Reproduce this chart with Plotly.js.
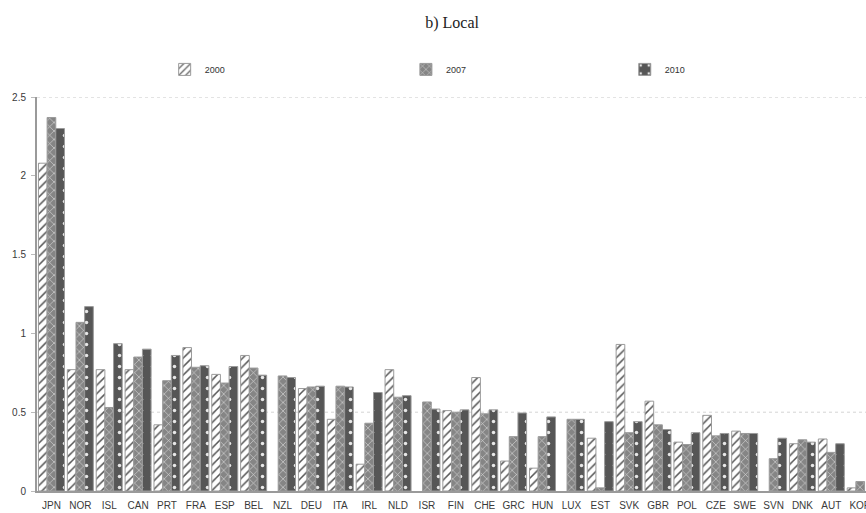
<!DOCTYPE html>
<html>
<head>
<meta charset="utf-8">
<script src="https://cdn.plot.ly/plotly-3.0.1.min.js"></script>
<style>html,body{margin:0;padding:0;background:#fff;}#chart{width:866px;height:513px;}</style>
</head>
<body>
<div id="chart"></div>
<script>
const countries = ["JPN","NOR","ISL","CAN","PRT","FRA","ESP","BEL","NZL","DEU","ITA","IRL","NLD","ISR","FIN","CHE","GRC","HUN","LUX","EST","SVK","GBR","POL","CZE","SWE","SVN","DNK","AUT","KOR"];
const y2000 = [2.08,0.77,0.77,0.77,0.42,0.91,0.74,0.86,null,0.65,0.455,0.17,0.77,null,0.51,0.72,0.19,0.145,null,0.335,0.93,0.57,0.31,0.48,0.38,null,0.30,0.33,0.02];
const y2007 = [2.37,1.07,0.53,0.85,0.70,0.785,0.685,0.78,0.73,0.66,0.665,0.43,0.595,0.565,0.50,0.49,0.345,0.345,0.455,0.02,0.37,0.42,0.295,0.35,0.365,0.205,0.325,0.245,0.06];
const y2010 = [2.30,1.17,0.935,0.90,0.86,0.795,0.79,0.735,0.72,0.665,0.66,0.625,0.605,0.52,0.515,0.515,0.495,0.47,0.455,0.44,0.44,0.39,0.37,0.365,0.365,0.335,0.31,0.30,null];
const seriesNames = ["2000","2007","2010"];

const lineStyle = {color:'#9a9a9a', width:1};
const traces = [
  {type:'bar', name:seriesNames[0], x:countries, y:y2000, legend:'legend',
   marker:{color:'#ffffff', line:lineStyle, pattern:{shape:'/', fgcolor:'#555555', bgcolor:'#ffffff', size:6, solidity:0.25}}},
  {type:'bar', name:seriesNames[1], x:countries, y:y2007, legend:'legend2',
   marker:{color:'#858585', line:lineStyle, pattern:{shape:'x', fgcolor:'#d8d8d8', bgcolor:'#858585', size:6, solidity:0.2}}},
  {type:'bar', name:seriesNames[2], x:countries, y:y2010, legend:'legend3',
   marker:{color:'#565656', line:lineStyle, pattern:{shape:'.', fgcolor:'#e8e8e8', bgcolor:'#565656', size:11, solidity:0.08}}}
];

const legFont = {family:'Liberation Sans, Arial, sans-serif', size:9, color:'#333'};
const legBase = {orientation:'h', yanchor:'middle', xanchor:'left', font:legFont, bgcolor:'rgba(0,0,0,0)', itemwidth:30};
const tickFont = {family:'Liberation Sans, Arial, sans-serif', size:10, color:'#3a3a3a'};

const layout = {
  width:866, height:513,
  margin:{l:37, r:0, t:97, b:22},
  paper_bgcolor:'#fff', plot_bgcolor:'#fff',
  title:{text:'b) Local', font:{family:'Liberation Serif, DejaVu Serif, serif', size:16, color:'#222'},
         x:0.522, xanchor:'center', y:0.957, yanchor:'middle'},
  bargap:0.1, bargroupgap:0, barmode:'group',
  xaxis:{type:'category', range:[-0.5,28.2], showgrid:false, showline:true, linecolor:'#9a9a9a', linewidth:2,
         ticks:'', tickfont:tickFont, tickangle:0, ticklabelstandoff:4, fixedrange:true},
  yaxis:{range:[0,2.5], dtick:0.5, showgrid:false, zeroline:false, showline:true, linecolor:'#9a9a9a', linewidth:2,
         ticks:'outside', ticklen:4, tickcolor:'#bbb', tickfont:tickFont, ticklabelstandoff:3},
  shapes:[
    {type:'line', xref:'paper', x0:0, x1:1, yref:'y', y0:2.5, y1:2.5, line:{color:'#c8c8c8', width:1, dash:'dot'}, layer:'below'},
    {type:'line', xref:'paper', x0:0, x1:1, yref:'y', y0:0.5, y1:0.5, line:{color:'#d4d4d4', width:1, dash:'dot'}, layer:'below'}
  ],
  legend:Object.assign({}, legBase, {x:0.154, y:1.07}),
  legend2:Object.assign({}, legBase, {x:0.445, y:1.07}),
  legend3:Object.assign({}, legBase, {x:0.709, y:1.07}),
  showlegend:true
};

Plotly.newPlot('chart', traces, layout, {displayModeBar:false, staticPlot:true});
</script>
</body>
</html>
